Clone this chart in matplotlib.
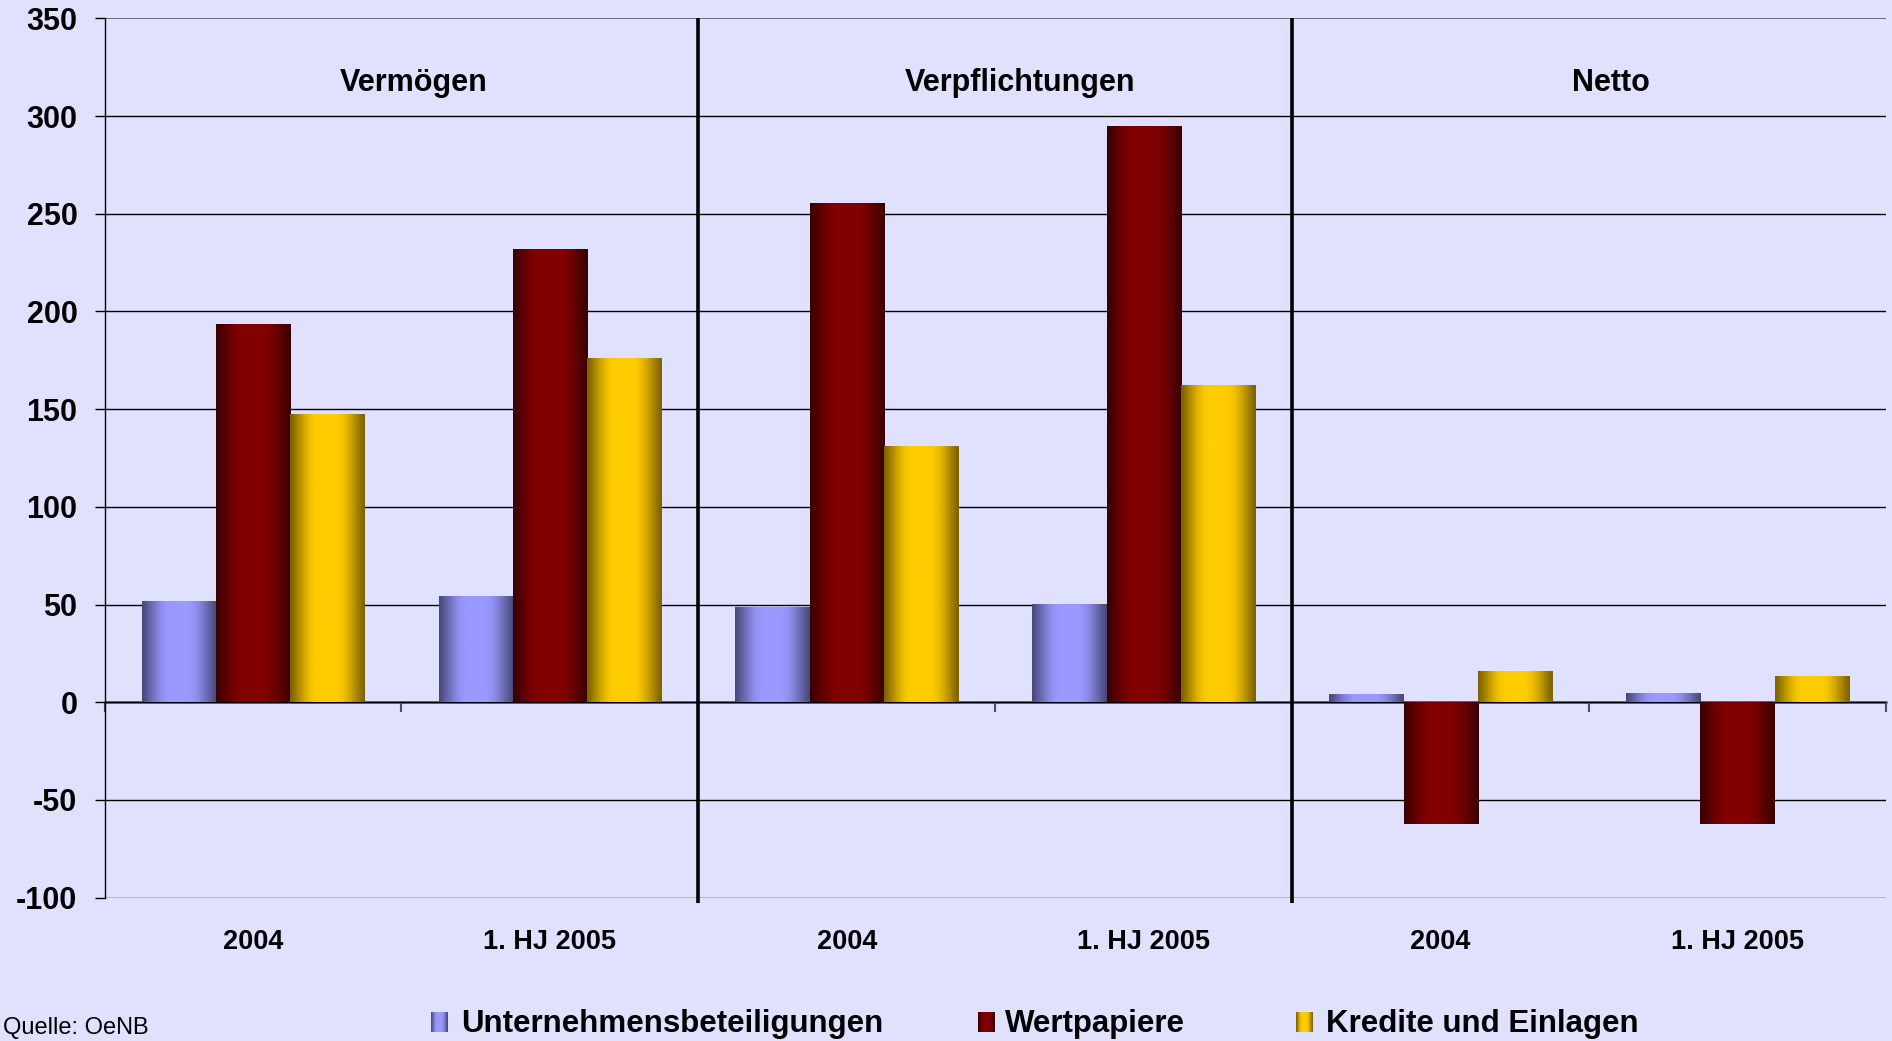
import numpy as np
import matplotlib
matplotlib.use("Agg")
import matplotlib.pyplot as plt
from matplotlib.colors import to_rgb

plt.rcParams['font.family'] = ['Liberation Sans', 'DejaVu Sans']

# ---------------- data ----------------
panels = ['Vermögen', 'Verpflichtungen', 'Netto']
periods = ['2004', '1. HJ 2005']
categories = [p for _ in panels for p in periods]
series_names = ['Unternehmensbeteiligungen', 'Wertpapiere', 'Kredite und Einlagen']
unternehmen = [51.6, 54.2, 48.6, 49.8, 3.6, 4.1]
wertpapiere = [193.3, 231.8, 255.3, 294.7, -62.2, -62.2]
kredite = [147.2, 175.9, 130.7, 162.1, 15.8, 13.3]
yticks = list(range(-100, 351, 50))
source = 'Quelle: OeNB'

# ---------------- style ----------------
BG = '#e0e0ff'
grad_colors = [('#48487a', '#9999ff'), ('#3a0000', '#820000'), ('#7a6200', '#ffcc00')]

W, H = 1892, 1041
fig = plt.figure(figsize=(W / 100, H / 100), dpi=100, facecolor=BG)
left_px, right_px, top_px, bot_px = 104.5, 1886, 18.5, 897.5
ax = fig.add_axes([left_px / W, 1 - bot_px / H, (right_px - left_px) / W, (bot_px - top_px) / H])
ax.set_facecolor(BG)


def gradient(c_dark, c_bright, n=200):
    t = np.linspace(0, 1, n)
    f = np.interp(t, [0, 0.38, 0.6, 1], [0, 1, 1, 0])
    f = np.sin(f * np.pi / 2) ** 1.2
    d = np.array(to_rgb(c_dark))
    b = np.array(to_rgb(c_bright))
    return (d[None, :] * (1 - f[:, None]) + b[None, :] * f[:, None])[None, :, :]


x = np.arange(len(categories)) + 0.5
bw = 0.25
all_series = [unternehmen, wertpapiere, kredite]
for i, vals in enumerate(all_series):
    bars = ax.bar(x + (i - 1) * bw, vals, bw, facecolor='none', edgecolor='none', zorder=2)
    img = gradient(*grad_colors[i])
    for p in bars.patches:
        x0, y0 = p.get_x(), p.get_y()
        w, h = p.get_width(), p.get_height()
        ax.imshow(img, extent=[x0, x0 + w, y0, y0 + h], aspect='auto',
                  interpolation='bilinear', zorder=2)

ymin, ymax = -100, 350
ax.set_xlim(0, len(categories))
ax.set_ylim(ymin, ymax)

# y axis
ax.set_yticks(yticks)
ax.set_yticklabels([str(v) for v in yticks], fontsize=22, fontweight='bold')
ax.tick_params(axis='y', direction='out', length=7.5, width=1, color='black', pad=12)
ax.yaxis.grid(True, color='black', lw=1.0)
ax.set_axisbelow(True)
ax.get_ygridlines()[-1].set_color('#6a6a7a')
ax.get_ygridlines()[-1].set_linewidth(1.4)
for s in ['top', 'right', 'bottom']:
    ax.spines[s].set_visible(False)
ax.spines['left'].set_color('black')
ax.spines['left'].set_linewidth(1.0)

# category labels
ax.set_xticks(x)
ax.set_xticklabels(categories, fontsize=19.5, fontweight='bold')
ax.tick_params(axis='x', length=0, pad=23)

# zero axis with boundary ticks
sec = ax.secondary_xaxis((0 - ymin) / (ymax - ymin))
sec.set_xticks(np.arange(0, len(categories) + 1))
sec.set_xticklabels([])
sec.tick_params(axis='x', direction='out', length=7, width=1.5, color='#505050')
sec.spines['bottom'].set_color('#585858')
sec.spines['bottom'].set_linewidth(1.8)

# panel separators
n_per = len(periods)
seps = [n_per * k for k in range(1, len(panels))]
ax.vlines(seps, ymin - 2.7, ymax, colors='black', lw=2.6, clip_on=False, zorder=5)

# panel titles
title_shift = [0.04, 0.085, 0.075]
for k, name in enumerate(panels):
    ax.text(n_per * k + n_per / 2 + title_shift[k], 312.9, name, ha='center',
            va='baseline', fontsize=22, fontweight='bold')

# legend (manual)
leg_marker_x = [431, 978, 1296]
leg_text_x = [461, 1005, 1326]
for i, name in enumerate(series_names):
    max_ = fig.add_axes([leg_marker_x[i] / W, 1 - 1032 / H, 17 / W, 20 / H])
    max_.imshow(gradient(*grad_colors[i], n=50), aspect='auto', interpolation='bilinear')
    max_.axis('off')
    fig.text(leg_text_x[i] / W, 1 - 1032 / H, name, fontsize=22.5, fontweight='bold',
             ha='left', va='baseline')

fig.text(3 / W, 1 - 1034 / H, source, fontsize=17, ha='left', va='baseline')

fig.savefig('out.png', dpi=100, facecolor=BG)
